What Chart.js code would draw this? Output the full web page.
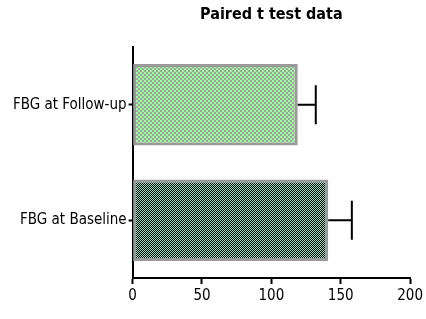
<!DOCTYPE html>
<html>
<head>
<meta charset="utf-8">
<script src="https://cdn.jsdelivr.net/npm/chart.js@4"></script>
<style>
  html, body { margin: 0; padding: 0; background: #fff; }
</style>
</head>
<body>
<canvas id="paired_chart" width="426" height="319"></canvas>
<script>
const categories = ["FBG at Follow-up", "FBG at Baseline"];
const means = [119, 141];
const errors = [13, 17];
const xTicks = [0, 50, 100, 150, 200];
const chartTitle = "Paired t test data";

const fontFamily = "'DejaVu Sans Condensed', 'Liberation Sans', Arial, sans-serif";

// checkerboard fills like the original
function checker(a, b, size) {
    const c = document.createElement("canvas");
    c.width = size * 2;
    c.height = size * 2;
    const g = c.getContext("2d");
    g.fillStyle = a;
    g.fillRect(0, 0, size * 2, size * 2);
    g.fillStyle = b;
    g.fillRect(0, 0, size, size);
    g.fillRect(size, size, size, size);
    return g.createPattern(c, "repeat");
}

const errorBars = {
    id: "errorBars",
    afterDatasetsDraw(chart) {
        const ctx = chart.ctx;
        const xs = chart.scales.x;
        const meta = chart.getDatasetMeta(0);
        ctx.save();
        ctx.strokeStyle = "#000";
        ctx.lineWidth = 2;
        meta.data.forEach((bar, i) => {
            const x0 = xs.getPixelForValue(means[i]);
            const x1 = xs.getPixelForValue(means[i] + errors[i]);
            const y = bar.y;
            const half = bar.height * 0.24;
            ctx.beginPath();
            ctx.moveTo(x0, y);
            ctx.lineTo(x1, y);
            ctx.moveTo(x1, y - half);
            ctx.lineTo(x1, y + half);
            ctx.stroke();
        });
        ctx.restore();
    }
};

// title centred over the plot area, not the whole canvas
const areaTitle = {
    id: "areaTitle",
    afterDraw(chart) {
        const ctx = chart.ctx;
        const a = chart.chartArea;
        ctx.save();
        ctx.fillStyle = "#000";
        ctx.font = "bold 16px " + fontFamily;
        ctx.textAlign = "center";
        ctx.textBaseline = "middle";
        ctx.fillText(chartTitle, (a.left + a.right) / 2, 15);
        ctx.restore();
    }
};

const ctx = document.getElementById("paired_chart");
const paired_chart = new Chart(ctx, {
    type: 'bar',
    data: {
        labels: categories,
        datasets: [{
            data: means,
            backgroundColor: [checker("#a0a0a0", "#99ff99", 2), checker("#000000", "#88e4c4", 1)],
            borderColor: "#999999",
            borderWidth: 3,
            borderSkipped: false,
            categoryPercentage: 0.8,
            barPercentage: 0.88
        }]
    },
    plugins: [errorBars, areaTitle],
    options: {
        indexAxis: 'y',
        responsive: false,
        animation: false,
        layout: {
            padding: { left: 11, right: 14, top: 47, bottom: 11 }
        },
        plugins: {
            legend: { display: false },
            tooltip: { enabled: false },
            title: { display: false }
        },
        scales: {
            x: {
                min: 0,
                max: 200,
                afterBuildTicks(axis) {
                    axis.ticks = xTicks.map(v => ({ value: v }));
                },
                border: { color: "#000", width: 2 },
                grid: {
                    drawOnChartArea: false,
                    drawTicks: true,
                    tickLength: 6,
                    tickWidth: 2,
                    tickColor: "#000"
                },
                ticks: {
                    color: "#000",
                    padding: 3,
                    font: { family: fontFamily, size: 15 }
                }
            },
            y: {
                border: { color: "#000", width: 2 },
                grid: {
                    offset: false,
                    drawOnChartArea: false,
                    drawTicks: true,
                    tickLength: 4,
                    tickWidth: 2,
                    tickColor: "#000"
                },
                ticks: {
                    color: "#000",
                    padding: 2,
                    font: { family: fontFamily, size: 15 }
                }
            }
        }
    }
});
</script>
</body>
</html>
